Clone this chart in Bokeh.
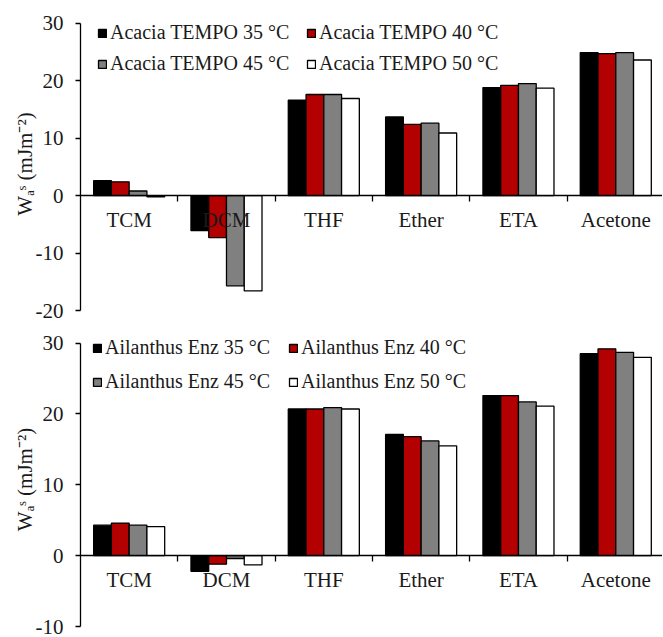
from bokeh.plotting import figure
from bokeh.models import Range1d, FixedTicker, Legend, LegendItem
from bokeh.layouts import column
from bokeh.embed import file_html
from bokeh.resources import INLINE

categories = ["TCM", "DCM", "THF", "Ether", "ETA", "Acetone"]
temps = ["35 °C", "40 °C", "45 °C", "50 °C"]

acacia_35 = [2.6, -6.1, 16.6, 13.7, 18.8, 24.9]
acacia_40 = [2.4, -7.3, 17.6, 12.4, 19.2, 24.7]
acacia_45 = [0.8, -15.7, 17.6, 12.6, 19.5, 24.9]
acacia_50 = [-0.2, -16.6, 16.9, 10.9, 18.7, 23.6]

ailanthus_35 = [4.3, -2.2, 20.7, 17.1, 22.6, 28.5]
ailanthus_40 = [4.6, -1.2, 20.7, 16.8, 22.6, 29.2]
ailanthus_45 = [4.3, -0.4, 20.9, 16.2, 21.7, 28.7]
ailanthus_50 = [4.1, -1.3, 20.7, 15.5, 21.1, 28.0]

top_yticks = [-20, -10, 0, 10, 20, 30]
bottom_yticks = [-10, 0, 10, 20, 30]

colors = ["#000000", "#b30000", "#808080", "#ffffff"]
FONT = "Liberation Serif"
YLABEL = "Wₐˢ (mJm⁻²)"
TXT = "#1a1a1a"


def make_panel(series, prefix, yr, ybounds, yticks, height, btop, bbot,
               leg_x, leg_y, spacing):
    p = figure(frame_width=582, height=height, output_backend="svg", toolbar_location=None,
               x_range=Range1d(0, 5.98), y_range=Range1d(*yr),
               min_border_left=80, min_border_right=0, min_border_top=btop, min_border_bottom=bbot)
    p.outline_line_color = None
    p.xgrid.visible = False
    p.ygrid.visible = False

    group_w = 0.73
    bw = group_w / 4
    renderers = []
    for k, vals in enumerate(series):
        off = -group_w / 2 + bw * (k + 0.5)
        xs = [i + 0.5 + off for i in range(len(categories))]
        r = p.vbar(x=xs, top=vals, bottom=0, width=bw, fill_color=colors[k],
                   line_color="black", line_width=1.3)
        renderers.append(r)

    xa = p.xaxis[0]
    xa.fixed_location = 0
    centers = [i + 0.5 for i in range(len(categories))]
    xa.ticker = FixedTicker(ticks=centers, minor_ticks=[1, 2, 3, 4, 5])
    xa.major_label_overrides = {c: name for c, name in zip(centers, categories)}
    xa.major_tick_line_color = None
    xa.major_tick_out = 6
    xa.major_tick_in = 0
    xa.minor_tick_line_color = "black"
    xa.minor_tick_line_width = 1.3
    xa.minor_tick_out = 6
    xa.minor_tick_in = 0
    xa.axis_line_width = 1.3
    xa.axis_line_color = "black"
    xa.major_label_standoff = 6
    xa.major_label_text_font = FONT
    xa.major_label_text_font_size = "21px"
    xa.major_label_text_color = TXT

    ya = p.yaxis[0]
    ya.bounds = ybounds
    ya.ticker = FixedTicker(ticks=yticks, minor_ticks=[])
    ya.major_label_overrides = {t: str(t) for t in yticks}
    ya.major_tick_out = 5
    ya.major_tick_in = 0
    ya.major_tick_line_width = 1.3
    ya.axis_line_width = 1.3
    ya.axis_line_color = "black"
    ya.major_tick_line_color = "black"
    ya.major_label_standoff = 12
    ya.major_label_text_font = FONT
    ya.major_label_text_font_size = "21px"
    ya.major_label_text_color = TXT
    ya.axis_label = YLABEL
    ya.axis_label_text_font = FONT
    ya.axis_label_text_font_size = "21px"
    ya.axis_label_text_font_style = "normal"
    ya.axis_label_text_color = TXT
    ya.axis_label_standoff = -4

    cols = [(0, 2), (1, 3)]
    for ci, (a, b) in enumerate(cols):
        items = [LegendItem(label=f"{prefix} {temps[j]}", renderers=[renderers[j]]) for j in (a, b)]
        leg = Legend(items=items, location=(leg_x[ci], leg_y), padding=0, margin=0,
                     glyph_width=10, glyph_height=10, label_standoff=3, spacing=spacing,
                     background_fill_alpha=0, border_line_color=None,
                     label_text_font=FONT, label_text_font_size="20px", label_text_color=TXT)
        p.add_layout(leg)
    return p


p1 = make_panel([acacia_35, acacia_40, acacia_45, acacia_50], "Acacia TEMPO", (-20, 31), (-20, 30),
                top_yticks, 326, 17, 16, (17, 226), 235, 8)
p2 = make_panel([ailanthus_35, ailanthus_40, ailanthus_45, ailanthus_50], "Ailanthus Enz", (-10, 31.5), (-10, 30),
                bottom_yticks, 311, 6, 11, (12, 208), 233, 11)

layout = column(p1, p2, spacing=0)
open("out.html", "w").write(file_html(layout, INLINE))
